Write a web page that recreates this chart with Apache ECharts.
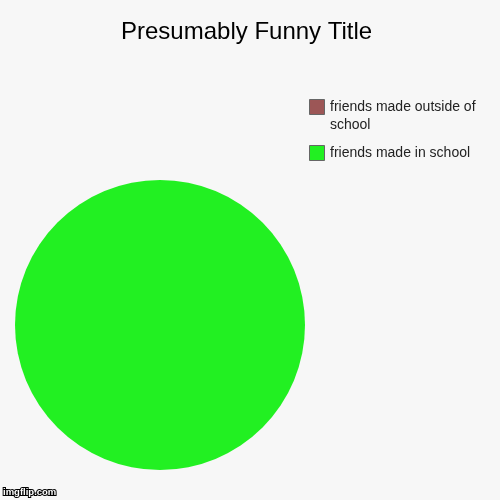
<!DOCTYPE html>
<html><head><meta charset="utf-8">
<script src="https://cdn.jsdelivr.net/npm/echarts@6/dist/echarts.min.js"></script>
<style>html,body{margin:0;padding:0;background:#f7f7f7}#c{width:500px;height:500px}</style>
</head><body><div id="c"></div>
<script>
const title = 'Presumably Funny Title';
const categories = ['friends made outside of school', 'friends made in school'];
const legendLines = [['friends made outside of', 'school'], ['friends made in school']];
const values = [0, 100];
const colors = ['#9c5656', '#22f022'];

const legendTops = [99, 145];
const legendGraphics = [];
categories.forEach((c, i) => {
  legendGraphics.push({
    type: 'rect', shape: { x: 309.5, y: legendTops[i] + 0.5, width: 15, height: 15 },
    style: { fill: colors[i], stroke: '#666', lineWidth: 1 }
  });
  legendGraphics.push({
    type: 'text', x: 330, y: legendTops[i] - 1,
    style: { text: legendLines[i].join('\n'), fontFamily: 'Liberation Sans, Arial', fontSize: 14, lineHeight: 18, fill: '#222', verticalAlign: 'top' }
  });
});

const chart = echarts.init(document.getElementById('c'));
chart.setOption({
  backgroundColor: '#f7f7f7',
  animation: false,
  title: {
    text: title, left: 121, top: 20, padding: 0,
    textStyle: { fontFamily: 'Liberation Sans, Arial', fontSize: 24, fontWeight: 'normal', color: '#000' }
  },
  series: [{
    type: 'pie',
    center: [160, 325], radius: 145,
    label: { show: false }, labelLine: { show: false },
    silent: true,
    startAngle: 90,
    data: categories.map((c, i) => ({ name: c, value: values[i], itemStyle: { color: colors[i] } }))
  }],
  graphic: legendGraphics.concat([{
    type: 'text', left: 2, bottom: 2,
    style: { text: 'imgflip.com', fontFamily: 'Liberation Sans, Arial', fontSize: 9.5, fontWeight: 'bold', fill: '#fff', stroke: '#000', lineWidth: 2 }
  }])
});
</script></body></html>
